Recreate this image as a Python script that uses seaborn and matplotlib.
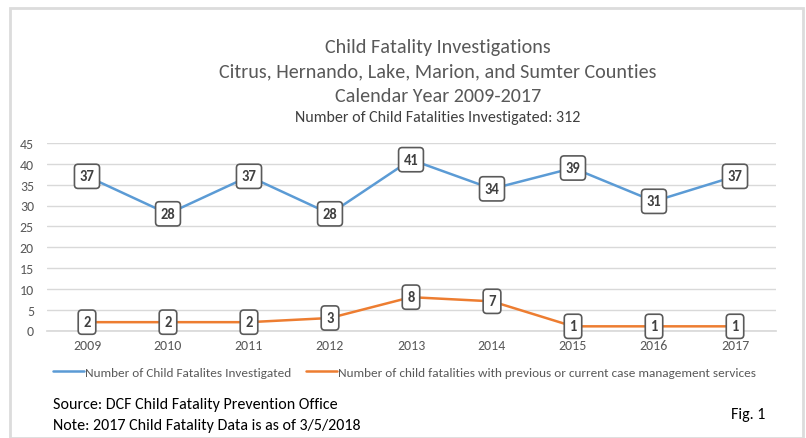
import matplotlib
matplotlib.use("Agg")
import matplotlib.pyplot as plt
import seaborn as sns
import pandas as pd
from matplotlib.patches import Rectangle
from matplotlib.lines import Line2D

years = ["2009", "2010", "2011", "2012", "2013", "2014", "2015", "2016", "2017"]
investigated = [37, 28, 37, 28, 41, 34, 39, 31, 37]
with_services = [2, 2, 2, 3, 8, 7, 1, 1, 1]
series_names = [
    "Number of Child Fatalites Investigated",
    "Number of child fatalities with previous or current case management services",
]
y_ticks = [0, 5, 10, 15, 20, 25, 30, 35, 40, 45]

sns.set_theme(style="white")
plt.rcParams["font.family"] = ["Carlito", "DejaVu Sans"]

df = pd.concat([
    pd.DataFrame({"year": years, "count": investigated, "series": series_names[0]}),
    pd.DataFrame({"year": years, "count": with_services, "series": series_names[1]}),
])

palette = {series_names[0]: "#5B9BD5", series_names[1]: "#ED7D31"}
grey = "#595959"

fig = plt.figure(figsize=(8.06, 4.39), dpi=100)
fig.patch.set_facecolor("white")

# outer chart frame
fig.add_artist(Rectangle((10 / 806, 0.0), 793 / 806, 1 - 9 / 439,
                         transform=fig.transFigure, fill=False,
                         edgecolor="#DCDCDC", linewidth=2))

ax = fig.add_axes([46.5 / 806, 1 - 331.5 / 439, 729 / 806, 187.5 / 439])
sns.lineplot(data=df, x="year", y="count", hue="series", palette=palette,
             linewidth=1.8, ax=ax, legend=False, sort=False)

ax.set_ylim(0, 45)
ax.set_xlim(-0.5, len(years) - 0.5)
ax.set_yticks(y_ticks)
ax.yaxis.grid(True, color="#D9D9D9", linewidth=1)
ax.set_axisbelow(True)
for s in ax.spines.values():
    s.set_visible(False)
ax.spines["bottom"].set_visible(True)
ax.spines["bottom"].set_color("#D9D9D9")
ax.set_xlabel("")
ax.set_ylabel("")
ax.tick_params(axis="both", length=0, labelsize=10, labelcolor=grey, pad=6)
ax.tick_params(axis="y", pad=9)

# value boxes on each point
box = dict(boxstyle="round,pad=0.35,rounding_size=0.25", facecolor="white",
           edgecolor="#5A5A5A", linewidth=1.2)
for vals in (investigated, with_services):
    for i, v in enumerate(vals):
        ax.text(i, v, str(v), ha="center", va="center", fontsize=10.5,
                fontweight="bold", color="#404040", bbox=box, zorder=5)

# titles
cx = 438 / 806
fig.text(cx, 1 - 47 / 439, "Child Fatality Investigations", ha="center",
         va="center", fontsize=14.5, color=grey)
fig.text(cx, 1 - 72 / 439, "Citrus, Hernando, Lake, Marion, and Sumter Counties",
         ha="center", va="center", fontsize=14.5, color=grey)
fig.text(cx, 1 - 97 / 439, "Calendar Year 2009-2017", ha="center",
         va="center", fontsize=14.5, color=grey)
fig.text(cx, 1 - 118 / 439, "Number of Child Fatalities Investigated: 312",
         ha="center", va="center", fontsize=11.5, color="#404040")

# legend
handles = [Line2D([0], [0], color=palette[n], linewidth=1.8) for n in series_names]
fig.legend(handles, series_names, loc="center left",
           bbox_to_anchor=(48 / 806, 1 - 373 / 439), ncol=2, frameon=False,
           fontsize=9.5, labelcolor=grey,
           handlelength=2.3, handletextpad=0.1, columnspacing=1.15,
           borderaxespad=0)

# footnotes
foot = dict(ha="left", va="center", fontsize=11.5, color="black")
fig.text(53 / 806, 1 - 405 / 439, "Source: DCF Child Fatality Prevention Office", **foot)
fig.text(53 / 806, 1 - 426 / 439, "Note: 2017 Child Fatality Data is as of 3/5/2018", **foot)
fig.text(765 / 806, 1 - 415 / 439, "Fig. 1", ha="right", va="center",
         fontsize=11.5, color="black")

fig.savefig("out.png", dpi=100)
